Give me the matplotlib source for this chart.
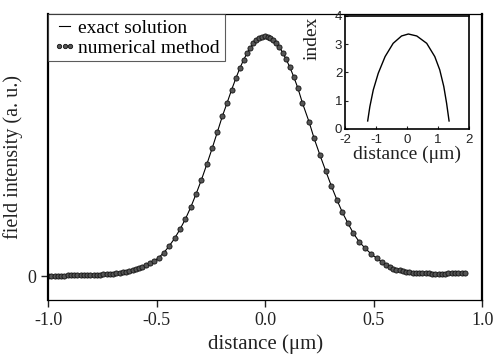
import matplotlib
matplotlib.use("Agg")
import matplotlib.pyplot as plt

# main panel: field profile
x_field = [-1.000, -0.985, -0.970, -0.955, -0.940, -0.925, -0.910, -0.895, -0.880, -0.865,
           -0.850, -0.835, -0.820, -0.805, -0.790, -0.775, -0.760, -0.745, -0.730, -0.715,
           -0.700, -0.685, -0.670, -0.655, -0.640, -0.625, -0.610, -0.595, -0.580, -0.565,
           -0.550, -0.532, -0.512, -0.490, -0.466, -0.442, -0.417, -0.392, -0.367, -0.342,
           -0.318, -0.293, -0.268, -0.244, -0.220, -0.197, -0.175, -0.154, -0.134, -0.116,
           -0.099, -0.083, -0.068, -0.054, -0.040, -0.027, -0.014, -0.001, 0.012, 0.025,
           0.038, 0.052, 0.066, 0.081, 0.097, 0.114, 0.132, 0.151, 0.172, 0.203,
           0.226, 0.253, 0.280, 0.306, 0.331, 0.356, 0.382, 0.407, 0.433, 0.461,
           0.487, 0.515, 0.540, 0.559, 0.575, 0.590, 0.605, 0.620, 0.635, 0.650,
           0.665, 0.680, 0.695, 0.710, 0.725, 0.740, 0.755, 0.770, 0.785, 0.800,
           0.815, 0.830, 0.845, 0.860, 0.875, 0.890, 0.905, 0.920]
y_field = [0.002, 0.002, 0.002, 0.002, 0.002, 0.002, 0.003, 0.003, 0.003, 0.003,
           0.003, 0.004, 0.004, 0.004, 0.005, 0.005, 0.006, 0.007, 0.008, 0.009,
           0.010, 0.012, 0.014, 0.016, 0.019, 0.022, 0.026, 0.030, 0.035, 0.040,
           0.046, 0.054, 0.062, 0.077, 0.098, 0.125, 0.157, 0.195, 0.238, 0.288,
           0.342, 0.402, 0.467, 0.532, 0.600, 0.666, 0.722, 0.777, 0.826, 0.867,
           0.901, 0.929, 0.952, 0.970, 0.983, 0.993, 0.998, 1.000, 0.998, 0.993,
           0.984, 0.971, 0.954, 0.932, 0.904, 0.871, 0.831, 0.784, 0.722, 0.642,
           0.574, 0.504, 0.437, 0.374, 0.318, 0.266, 0.220, 0.178, 0.144, 0.116,
           0.094, 0.074, 0.057, 0.045, 0.037, 0.031, 0.027, 0.024, 0.021, 0.019,
           0.017, 0.015, 0.014, 0.013, 0.012, 0.011, 0.011, 0.010, 0.010, 0.010,
           0.010, 0.010, 0.011, 0.011, 0.012, 0.013, 0.014, 0.015]

# inset: index profile
x_index = [-1.27, -1.20, -1.09, -0.93, -0.71, -0.45, -0.18, 0.04, 0.31, 0.63, 0.89, 1.05, 1.18, 1.27, 1.35]
y_index = [0.28, 0.79, 1.38, 1.97, 2.56, 3.03, 3.29, 3.36, 3.29, 3.03, 2.56, 2.09, 1.50, 0.91, 0.28]

x_ticks = [-1.0, -0.5, 0.0, 0.5, 1.0]
x_ticklabels = ["-1.0", "-0.5", "0.0", "0.5", "1.0"]

plt.rcParams["font.family"] = ["Liberation Serif", "DejaVu Serif"]

fig = plt.figure(figsize=(4.95, 3.62), dpi=100)
ax = fig.add_axes([0.097, 0.171, 0.877, 0.790])

ax.plot(x_field, y_field, "-", color="black", lw=0.8, label="exact solution")
ax.plot(x_field, y_field, "o", ls="none", ms=3.7, mfc="#555555", mec="#111111", mew=0.6,
        label="numerical method")

ax.set_xlim(-1.0, 1.0)
ax.set_ylim(-0.10, 1.092)
ax.set_xticks(x_ticks)
ax.set_xticklabels(x_ticklabels)
ax.set_yticks([0])
ax.set_yticklabels(["0"])
ax.tick_params(direction="out", length=5, width=1, labelsize=13, colors="#222222")
ax.set_xlabel("distance (μm)", fontsize=15, color="#222222")
ax.set_ylabel("field intensity (a. u.)", fontsize=14.5, color="#222222", labelpad=3)
ax.spines["left"].set_linewidth(1.6)
ax.spines["right"].set_linewidth(1.6)
ax.spines["top"].set_linewidth(0.9)
ax.spines["bottom"].set_linewidth(0.9)

leg = ax.legend(loc="upper left", borderaxespad=0, fontsize=14, frameon=True, fancybox=False,
                handlelength=1.2, handletextpad=0.1, borderpad=0.25, labelspacing=0.12,
                numpoints=3, markerscale=0.85)
leg.get_frame().set_edgecolor("#333333")
leg.get_frame().set_linewidth(0.8)

# inset
ins = fig.add_axes([0.697, 0.644, 0.251, 0.312])
ins.plot(x_index, y_index, "-", color="black", lw=1.0)
ins.set_xlim(-2, 2)
ins.set_ylim(0, 4)
ins.set_xticks([-2, -1, 0, 1, 2])
ins.set_xticklabels(["-2", "-1", "0", "1", "2"], family=["Liberation Sans", "DejaVu Sans"])
ins.set_yticks([0, 1, 2, 3, 4])
ins.set_yticklabels(["0", "1", "2", "3", "4"], family=["Liberation Sans", "DejaVu Sans"])
ins.tick_params(direction="in", length=2.5, labelsize=9.5, colors="#222222")
ins.tick_params(axis="x", pad=3.5)
ins.tick_params(axis="y", pad=2)
ins.set_xlabel("distance (μm)", fontsize=14, labelpad=0, color="#222222")
ins.set_ylabel("index", fontsize=14, labelpad=1, color="#222222")
ins.yaxis.set_label_coords(-0.2, 0.8)
for s in ins.spines.values():
    s.set_linewidth(1.2)

fig.savefig("out.png", dpi=100)
